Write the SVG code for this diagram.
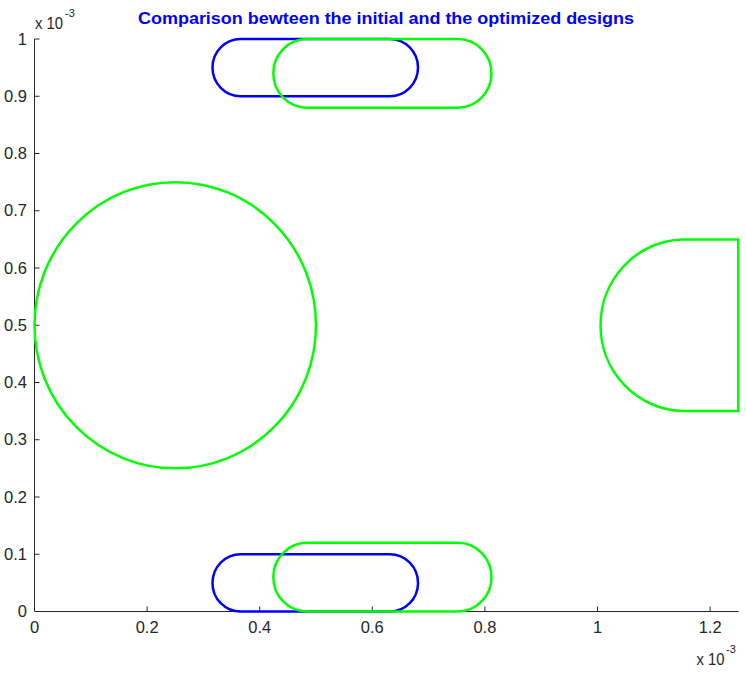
<svg xmlns="http://www.w3.org/2000/svg" width="746" height="677" viewBox="0 0 746 677">
<style>
.ax{stroke:#262626;stroke-width:1;fill:none}
.lbl{font-family:"Liberation Sans",Arial,sans-serif;font-size:16.5px;fill:#262626}
.sup{font-family:"Liberation Sans",Arial,sans-serif;font-size:11px;fill:#262626}
.yl{text-anchor:end}
.xl{text-anchor:middle}
.blue{stroke:#0000ff;stroke-width:2.5;fill:none}
.green{stroke:#00ff00;stroke-width:2.5;fill:none}
.title{font-family:"Liberation Sans",Arial,sans-serif;font-size:16px;font-weight:bold;fill:#0000ff;text-anchor:middle}
</style>
<rect width="746" height="677" fill="#ffffff"/>
<g id="axes">
<path class="ax" d="M34.5,39 V611.5 H738.5"/>
<path class="ax" d="M34.5,39 h5 M34.5,96.25 h5 M34.5,153.5 h5 M34.5,210.75 h5 M34.5,268 h5 M34.5,325.25 h5 M34.5,382.5 h5 M34.5,439.75 h5 M34.5,497 h5 M34.5,554.25 h5"/>
<path class="ax" d="M147.1,611.5 v-5 M259.7,611.5 v-5 M372.3,611.5 v-5 M484.9,611.5 v-5 M597.5,611.5 v-5 M710.1,611.5 v-5"/>
<g class="lbl yl">
<text x="27" y="44.5">1</text>
<text x="27" y="101.75">0.9</text>
<text x="27" y="159">0.8</text>
<text x="27" y="216.25">0.7</text>
<text x="27" y="273.5">0.6</text>
<text x="27" y="330.75">0.5</text>
<text x="27" y="388">0.4</text>
<text x="27" y="445.25">0.3</text>
<text x="27" y="502.5">0.2</text>
<text x="27" y="559.75">0.1</text>
<text x="27" y="617">0</text>
</g>
<g class="lbl xl">
<text x="34.5" y="632.5">0</text>
<text x="147.1" y="632.5">0.2</text>
<text x="259.7" y="632.5">0.4</text>
<text x="372.3" y="632.5">0.6</text>
<text x="484.9" y="632.5">0.8</text>
<text x="597.5" y="632.5">1</text>
<text x="710.1" y="632.5">1.2</text>
</g>
<text class="lbl" x="35" y="29" textLength="28" lengthAdjust="spacingAndGlyphs">x 10</text>
<text class="sup" x="65" y="17">-3</text>
<text class="lbl" x="696.5" y="665" textLength="28" lengthAdjust="spacingAndGlyphs">x 10</text>
<text class="sup" x="726" y="653">-3</text>
</g>
<text id="title" class="title" x="386" y="24" textLength="496" lengthAdjust="spacingAndGlyphs">Comparison bewteen the initial and the optimized designs</text>
<g id="initial-top"><path class="blue" d="M240.7,39 H389.8 A28.2,28.6 0 0 1 389.8,96.25 H240.7 A28.2,28.6 0 0 1 240.7,39 Z"/></g>
<g id="initial-bottom"><path class="blue" d="M240.7,554.25 H389.8 A28.2,28.6 0 0 1 389.8,611.5 H240.7 A28.2,28.6 0 0 1 240.7,554.25 Z"/></g>
<g id="optimized-top"><path class="green" d="M307.1,39 H457.7 A33.8,34.35 0 0 1 457.7,107.7 H307.1 A33.8,34.35 0 0 1 307.1,39 Z"/></g>
<g id="optimized-bottom"><path class="green" d="M307.1,542.8 H457.7 A33.8,34.35 0 0 1 457.7,611.5 H307.1 A33.8,34.35 0 0 1 307.1,542.8 Z"/></g>
<g id="circle"><ellipse class="green" cx="175.25" cy="325.25" rx="140.75" ry="143.1"/></g>
<g id="half-disk"><path class="green" d="M738.25,239.4 H682.1 A84.45,85.9 0 0 0 682.1,411.1 H738.25 Z"/></g>
</svg>
